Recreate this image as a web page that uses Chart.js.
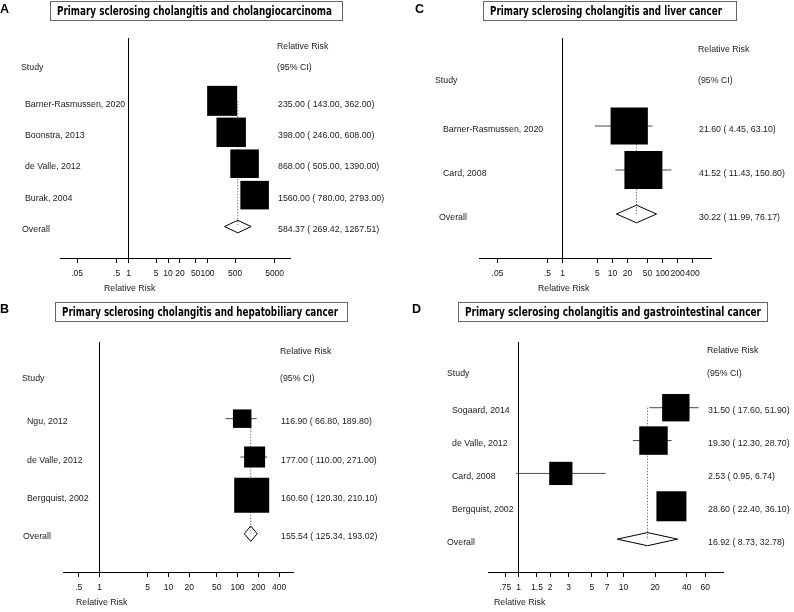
<!DOCTYPE html>
<html>
<head>
<meta charset="utf-8">
<script src="https://cdn.jsdelivr.net/npm/chart.js@4.4.1/dist/chart.umd.min.js"></script>
<style>
  html, body { margin: 0; padding: 0; background: #fff; }
  body { width: 794px; height: 612px; position: relative; overflow: hidden; }
  canvas { position: absolute; left: 0; top: 0; }
  .letter { position: absolute; font: bold 12.5px "Liberation Sans", Arial, sans-serif; line-height: 12.5px; color: #000; }
  .title { position: absolute; border: 1px solid #666; box-sizing: border-box; background: #fff; }
  .title span { position: absolute; white-space: nowrap; color: #000;
    font: bold 12px "DejaVu Sans Condensed", "DejaVu Sans", sans-serif; line-height: 12px; transform-origin: 0 50%; }
</style>
</head>
<body>
<script>
// A: cholangiocarcinoma
const studiesA = ["Barner-Rasmussen, 2020", "Boonstra, 2013", "de Valle, 2012", "Burak, 2004"];
const rrA = [235.00, 398.00, 868.00, 1560.00];
const lowA = [143.00, 246.00, 505.00, 780.00];
const highA = [362.00, 608.00, 1390.00, 2793.00];
const weightA = [26.5, 25.5, 24, 24];
const overallA = [584.37, 269.42, 1267.51];
const ticksA = [0.05, 0.5, 1, 5, 10, 20, 50, 100, 500, 5000];
const tickLabelsA = [".05", ".5", "1", "5", "10", "20", "50", "100", "500", "5000"];

// B: hepatobiliary cancer
const studiesB = ["Ngu, 2012", "de Valle, 2012", "Bergquist, 2002"];
const rrB = [116.90, 177.00, 160.60];
const lowB = [66.80, 110.00, 120.30];
const highB = [189.80, 271.00, 210.10];
const weightB = [17, 22, 61];
const overallB = [155.54, 125.34, 193.02];
const ticksB = [0.5, 1, 5, 10, 20, 50, 100, 200, 400];
const tickLabelsB = [".5", "1", "5", "10", "20", "50", "100", "200", "400"];

// C: liver cancer
const studiesC = ["Barner-Rasmussen, 2020", "Card, 2008"];
const rrC = [21.60, 41.52];
const lowC = [4.45, 11.43];
const highC = [63.10, 150.80];
const weightC = [49, 51];
const overallC = [30.22, 11.99, 76.17];
const ticksC = [0.05, 0.5, 1, 5, 10, 20, 50, 100, 200, 400];
const tickLabelsC = [".05", ".5", "1", "5", "10", "20", "50", "100", "200", "400"];

// D: gastrointestinal cancer
const studiesD = ["Sogaard, 2014", "de Valle, 2012", "Card, 2008", "Bergquist, 2002"];
const rrD = [31.50, 19.30, 2.53, 28.60];
const lowD = [17.60, 12.30, 0.95, 22.40];
const highD = [51.90, 28.70, 6.74, 36.10];
const weightD = [25, 27, 18, 30];
const overallD = [16.92, 8.73, 32.78];
const ticksD = [0.75, 1, 1.5, 2, 3, 5, 7, 10, 20, 40, 60];
const tickLabelsD = [".75", "1", "1.5", "2", "3", "5", "7", "10", "20", "40", "60"];

const W = 794, H = 612;
const TXT = "9.6px 'Liberation Sans', Arial, sans-serif";
const TXT_SQUEEZE = 0.917;

const panels = [
  { letter: "A", letterPos: [0, 3], title: "Primary sclerosing cholangitis and cholangiocarcinoma",
    box: [50, 1, 343, 21], text: [57, 275],
    studies: studiesA, rr: rrA, low: lowA, high: highA, weight: weightA, overall: overallA,
    ticks: ticksA, tickLabels: tickLabelsA,
    plot: { left: 60, right: 290, top: 38, bottom: 258 }, one: 128.5, decade: 39.5, maxBox: 30,
    nameX: 25, headX: 21, overallX: 22, ciX: 278, axisTitleX: 104 },
  { letter: "B", letterPos: [0, 303], title: "Primary sclerosing cholangitis and hepatobiliary cancer",
    box: [55, 302, 348, 322], text: [62, 276],
    studies: studiesB, rr: rrB, low: lowB, high: highB, weight: weightB, overall: overallB,
    ticks: ticksB, tickLabels: tickLabelsB,
    plot: { left: 63, right: 293, top: 342, bottom: 572 }, one: 99.5, decade: 69, maxBox: 35,
    nameX: 27, headX: 22, overallX: 23, ciX: 281, axisTitleX: 76 },
  { letter: "C", letterPos: [415, 3], title: "Primary sclerosing cholangitis and liver cancer",
    box: [483, 1, 737, 21], text: [490, 232],
    studies: studiesC, rr: rrC, low: lowC, high: highC, weight: weightC, overall: overallC,
    ticks: ticksC, tickLabels: tickLabelsC,
    plot: { left: 479, right: 711, top: 38, bottom: 258 }, one: 562.5, decade: 50, maxBox: 38,
    nameX: 443, headX: 435, overallX: 439, ciX: 699, axisTitleX: 538 },
  { letter: "D", letterPos: [412, 303], title: "Primary sclerosing cholangitis and gastrointestinal cancer",
    box: [458, 302, 768, 322], text: [465, 296],
    studies: studiesD, rr: rrD, low: lowD, high: highD, weight: weightD, overall: overallD,
    ticks: ticksD, tickLabels: tickLabelsD,
    plot: { left: 488, right: 723, top: 342, bottom: 572 }, one: 518.5, decade: 105, maxBox: 30,
    nameX: 452, headX: 447, overallX: 447, ciX: 708, axisTitleX: 494 }
];

function ciText(est, lo, hi) {
  return est.toFixed(2) + " ( " + lo.toFixed(2) + ", " + hi.toFixed(2) + ")";
}

function addTitle(p) {
  const l = document.createElement("div");
  l.className = "letter";
  l.textContent = p.letter;
  l.style.left = p.letterPos[0] + "px";
  l.style.top = p.letterPos[1] + "px";
  document.body.appendChild(l);

  const b = document.createElement("div");
  b.className = "title";
  b.style.left = p.box[0] + "px";
  b.style.top = p.box[1] + "px";
  b.style.width = (p.box[2] - p.box[0]) + "px";
  b.style.height = (p.box[3] - p.box[1]) + "px";
  const s = document.createElement("span");
  s.textContent = p.title;
  b.appendChild(s);
  document.body.appendChild(b);
  const w = s.getBoundingClientRect().width;
  s.style.left = (p.text[0] - p.box[0] - 1) + "px";
  s.style.top = ((p.box[3] - p.box[1]) / 2 - 1 - 6) + "px";
  s.style.transform = "scaleX(" + (p.text[1] / w) + ")";
}

function squeezeText(ctx, s, x, y) {
  ctx.save();
  ctx.translate(x, y);
  ctx.scale(TXT_SQUEEZE, 1);
  ctx.fillText(s, 0, 0);
  ctx.restore();
}

function makeForest(p) {
  const n = p.studies.length;
  const canvas = document.createElement("canvas");
  canvas.width = W;
  canvas.height = H;
  document.body.appendChild(canvas);

  const wMax = Math.max(...p.weight);
  const radius = p.weight.map(w => p.maxBox * Math.sqrt(w / wMax) / Math.SQRT2);
  const [est, lo, hi] = p.overall;
  const r = n + 1;

  const datasets = [];
  datasets.push({
    data: p.rr.map((v, i) => ({ x: v, y: i + 1 })),
    pointStyle: "rect", pointRadius: radius, pointBackgroundColor: "#000",
    pointBorderWidth: 0, order: 0
  });
  p.low.forEach((l, i) => {
    datasets.push({
      data: [{ x: l, y: i + 1 }, { x: p.high[i], y: i + 1 }],
      showLine: true, borderColor: "#4a4a4a", borderWidth: 1, pointRadius: 0, order: 3
    });
  });
  // dotted line at pooled estimate
  datasets.push({
    data: [{ x: est, y: 1 }, { x: est, y: r }],
    showLine: true, borderColor: "#777", borderWidth: 1, borderDash: [1.5, 1.5], pointRadius: 0, order: 4
  });
  // pooled diamond
  datasets.push({
    data: [{ x: lo, y: r }, { x: est, y: r - 0.2 }, { x: hi, y: r }, { x: est, y: r + 0.2 }, { x: lo, y: r }],
    showLine: true, borderColor: "#000", borderWidth: 1, pointRadius: 0, fill: false, order: 1
  });
  // line of no effect
  datasets.push({
    data: [{ x: 1, y: -1 }, { x: 1, y: n + 2 }],
    showLine: true, borderColor: "#000", borderWidth: 1, pointRadius: 0, order: 2
  });

  const textPlugin = {
    id: "forestText",
    afterDraw(chart) {
      const ctx = chart.ctx;
      const ys = chart.scales.y;
      ctx.save();
      ctx.fillStyle = "#1a1a1a";
      ctx.font = TXT;
      ctx.textAlign = "left";
      ctx.textBaseline = "middle";
      squeezeText(ctx, "Relative Risk", p.ciX - 1, ys.getPixelForValue(-0.75));
      squeezeText(ctx, "(95% CI)", p.ciX - 1, ys.getPixelForValue(0) - 2);
      squeezeText(ctx, "Study", p.headX, ys.getPixelForValue(0) - 2);
      p.studies.forEach((s, i) => {
        const py = ys.getPixelForValue(i + 1) + 3;
        squeezeText(ctx, s, p.nameX, py);
        squeezeText(ctx, ciText(p.rr[i], p.low[i], p.high[i]), p.ciX, py);
      });
      const po = ys.getPixelForValue(r) + 3;
      squeezeText(ctx, "Overall", p.overallX, po);
      squeezeText(ctx, ciText(est, lo, hi), p.ciX, po);
      squeezeText(ctx, "Relative Risk", p.axisTitleX, chart.chartArea.bottom + 30);
      ctx.restore();
    }
  };

  new Chart(canvas, {
    type: "scatter",
    data: { datasets },
    options: {
      responsive: false,
      animation: false,
      events: [],
      layout: { padding: { left: p.plot.left, right: W - p.plot.right, top: p.plot.top, bottom: 0 } },
      plugins: { legend: { display: false }, tooltip: { enabled: false } },
      scales: {
        x: {
          type: "logarithmic",
          bounds: "data",
          min: Math.pow(10, (p.plot.left - p.one) / p.decade),
          max: Math.pow(10, (p.plot.right - p.one) / p.decade),
          afterBuildTicks: s => { s.ticks = p.ticks.map(v => ({ value: v })); },
          afterFit: s => { s.height = H - p.plot.bottom; },
          border: { display: true, color: "#000", width: 1 },
          grid: { display: true, drawOnChartArea: false, drawTicks: true, tickLength: 5, color: "#000", lineWidth: 1 },
          ticks: {
            autoSkip: false, maxRotation: 0, padding: 6, color: "#111",
            font: { family: "'Liberation Sans', Arial, sans-serif", size: 8.5 },
            callback: (v, i) => p.tickLabels[i]
          }
        },
        y: { type: "linear", reverse: true, min: -1, max: n + 2, display: false }
      }
    },
    plugins: [textPlugin]
  });
}

panels.forEach(p => makeForest(p));
panels.forEach(p => addTitle(p));
</script>
</body>
</html>
